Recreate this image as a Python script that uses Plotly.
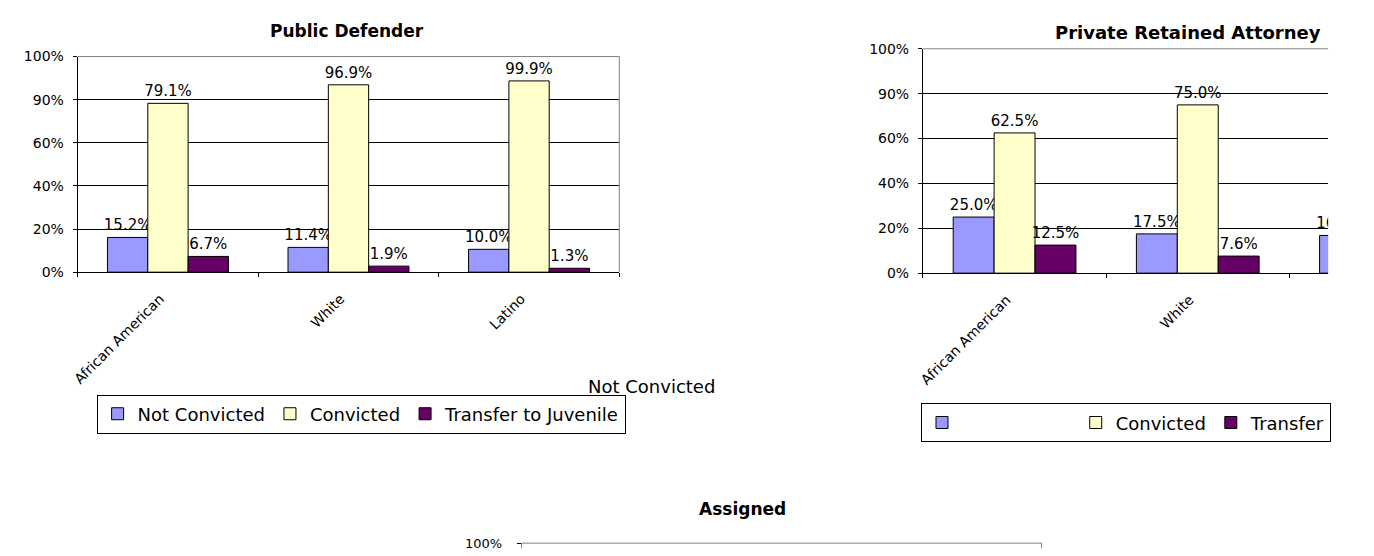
import plotly.graph_objects as go

W, H = 1374, 556

categories = ["African American", "White", "Latino"]

# Public Defender (bar heights, labels as printed)
pd_not_conv = [16.1, 11.5, 10.6]
pd_conv = [78.3, 86.9, 88.7]
pd_transfer = [7.3, 2.8, 1.8]
pd_not_conv_lbl = ["15.2%", "11.4%", "10.0%"]
pd_conv_lbl = ["79.1%", "96.9%", "99.9%"]
pd_transfer_lbl = ["6.7%", "1.9%", "1.3%"]

# Private Retained Attorney (chart is cut off on the right)
pr_not_conv = [25.0, 17.5, 16.8]
pr_conv = [62.5, 75.0, None]
pr_transfer = [12.5, 7.6, None]
pr_not_conv_lbl = ["25.0%", "17.5%", "16.8%"]
pr_conv_lbl = ["62.5%", "75.0%", ""]
pr_transfer_lbl = ["12.5%", "7.6%", ""]

# Assigned (only the top of the chart is visible)
as_values = [None, None, None]

y_tickvals = [0, 20, 40, 60, 80, 100]
y_ticktext = ["0%", "20%", "40%", "60%", "90%", "100%"]

series_names = ["Not Convicted", "Convicted", "Transfer to Juvenile"]
series_names2 = ["\u00a0" * 19, "Convicted", "Transfer"]
colors = ["#9999FF", "#FFFFCC", "#660066"]

FONT = "DejaVu Sans"

fig = go.Figure()

def add_bars(vals_list, lbls_list, names, xa, ya, legend):
    for vals, lbls, name, col in zip(vals_list, lbls_list, names, colors):
        fig.add_trace(go.Bar(
            x=categories, y=vals, name=name, text=lbls,
            textposition="outside", constraintext="none",
            textfont=dict(family=FONT, size=15, color="black"),
            marker=dict(color=col, line=dict(color="black", width=1)),
            xaxis=xa, yaxis=ya, legend=legend,
        ))

add_bars([pd_not_conv, pd_conv, pd_transfer],
         [pd_not_conv_lbl, pd_conv_lbl, pd_transfer_lbl],
         series_names, "x", "y", "legend")
add_bars([pr_not_conv, pr_conv, pr_transfer],
         [pr_not_conv_lbl, pr_conv_lbl, pr_transfer_lbl],
         series_names2, "x2", "y2", "legend2")
fig.add_trace(go.Bar(x=categories, y=as_values, xaxis="x3", yaxis="y3",
                     showlegend=False, marker=dict(color=colors[0])))

def px_x(a, b):
    return [a / W, b / W]

def px_y(top, bottom):
    return [1 - bottom / H, 1 - top / H]

xcommon = dict(type="category", showline=True, linecolor="black", linewidth=1,
               ticks="outside", ticklen=4, tickcolor="black", tickson="boundaries",
               tickangle=-45, tickfont=dict(family=FONT, size=14, color="black"),
               ticklabelstandoff=12, ticklabelshift=-8,
               showgrid=False, zeroline=False)
ycommon = dict(range=[0, 100], tickvals=y_tickvals, ticktext=y_ticktext,
               showline=True, linecolor="black", linewidth=1,
               ticks="outside", ticklen=4, tickcolor="black", ticklabelstandoff=6,
               tickfont=dict(family=FONT, size=14, color="black"),
               showgrid=True, gridcolor="black", gridwidth=1, zeroline=False)

fig.update_layout(
    width=W, height=H, autosize=False,
    margin=dict(l=0, r=0, t=0, b=0),
    paper_bgcolor="white", plot_bgcolor="white",
    barmode="group", bargap=0.33, bargroupgap=0,
    font=dict(family=FONT, color="black"),
    xaxis=dict(domain=px_x(72, 616), anchor="y", range=[-0.5, 2.5], **xcommon),
    yaxis=dict(domain=px_y(50, 272), anchor="x", **ycommon),
    xaxis2=dict(domain=px_x(921, 1328), anchor="y2", range=[-0.5, 1.712], **xcommon),
    yaxis2=dict(domain=px_y(42, 273), anchor="x2", **ycommon),
    xaxis3=dict(domain=px_x(518, 1040), anchor="y3", type="category",
                range=[-0.5, 2.5], showline=False,
                showticklabels=False, ticks="", showgrid=False, zeroline=False),
    yaxis3=dict(domain=px_y(551, 556), anchor="x3", range=[95, 100],
                tickvals=[100], ticktext=["100%"], showline=True, linecolor="#808080",
                mirror=True, ticks="outside", ticklen=4, tickcolor="black",
                ticklabelstandoff=12,
                tickfont=dict(family=FONT, size=13, color="black"),
                showgrid=False, zeroline=False),
    legend=dict(orientation="h", x=91 / W, y=1 - 398 / H, xanchor="left", yanchor="top",
                bordercolor="black", borderwidth=1, bgcolor="white",
                font=dict(family=FONT, size=18, color="black"), traceorder="normal"),
    legend2=dict(orientation="h", x=919 / W, y=1 - 407 / H, xanchor="left", yanchor="top",
                 bordercolor="black", borderwidth=1, bgcolor="white",
                 font=dict(family=FONT, size=18, color="black"), traceorder="normal"),
    showlegend=True,
)

# plot-area borders (gray), referenced to axis domains
border = dict(color="#808080", width=1)
fig.add_shape(type="line", xref="x domain", yref="y domain", x0=0, x1=1, y0=1, y1=1, line=border)
fig.add_shape(type="line", xref="x domain", yref="y domain", x0=1, x1=1, y0=0, y1=1, line=border)
fig.add_shape(type="line", xref="x2 domain", yref="y2 domain", x0=0, x1=1, y0=1, y1=1, line=border)
fig.add_shape(type="line", xref="x3 domain", yref="y3 domain", x0=0, x1=1, y0=1, y1=1, line=border)

title_font = dict(family=FONT, size=17, color="black", weight="bold")
fig.add_annotation(text="Public Defender", x=342 / W, y=1 - 24 / H, xref="paper", yref="paper",
                   xanchor="center", yanchor="middle", showarrow=False, font=title_font)
fig.add_annotation(text="Private Retained Attorney", x=1187 / W, y=1 - 25.5 / H,
                   xref="paper", yref="paper", xanchor="center", yanchor="middle",
                   showarrow=False, font=dict(family=FONT, size=18, color="black", weight="bold"))
fig.add_annotation(text="Assigned", x=740 / W, y=1 - 515.5 / H, xref="paper", yref="paper",
                   xanchor="center", yanchor="middle", showarrow=False, font=title_font)
fig.add_annotation(text="Not Convicted", x=583 / W, y=1 - 390 / H, xref="paper", yref="paper",
                   xanchor="left", yanchor="middle", showarrow=False,
                   font=dict(family=FONT, size=18, color="black"))

fig.write_html("out.html", config={"displayModeBar": False},
               post_script="document.body.style.margin='0';document.body.style.overflow='hidden';")
